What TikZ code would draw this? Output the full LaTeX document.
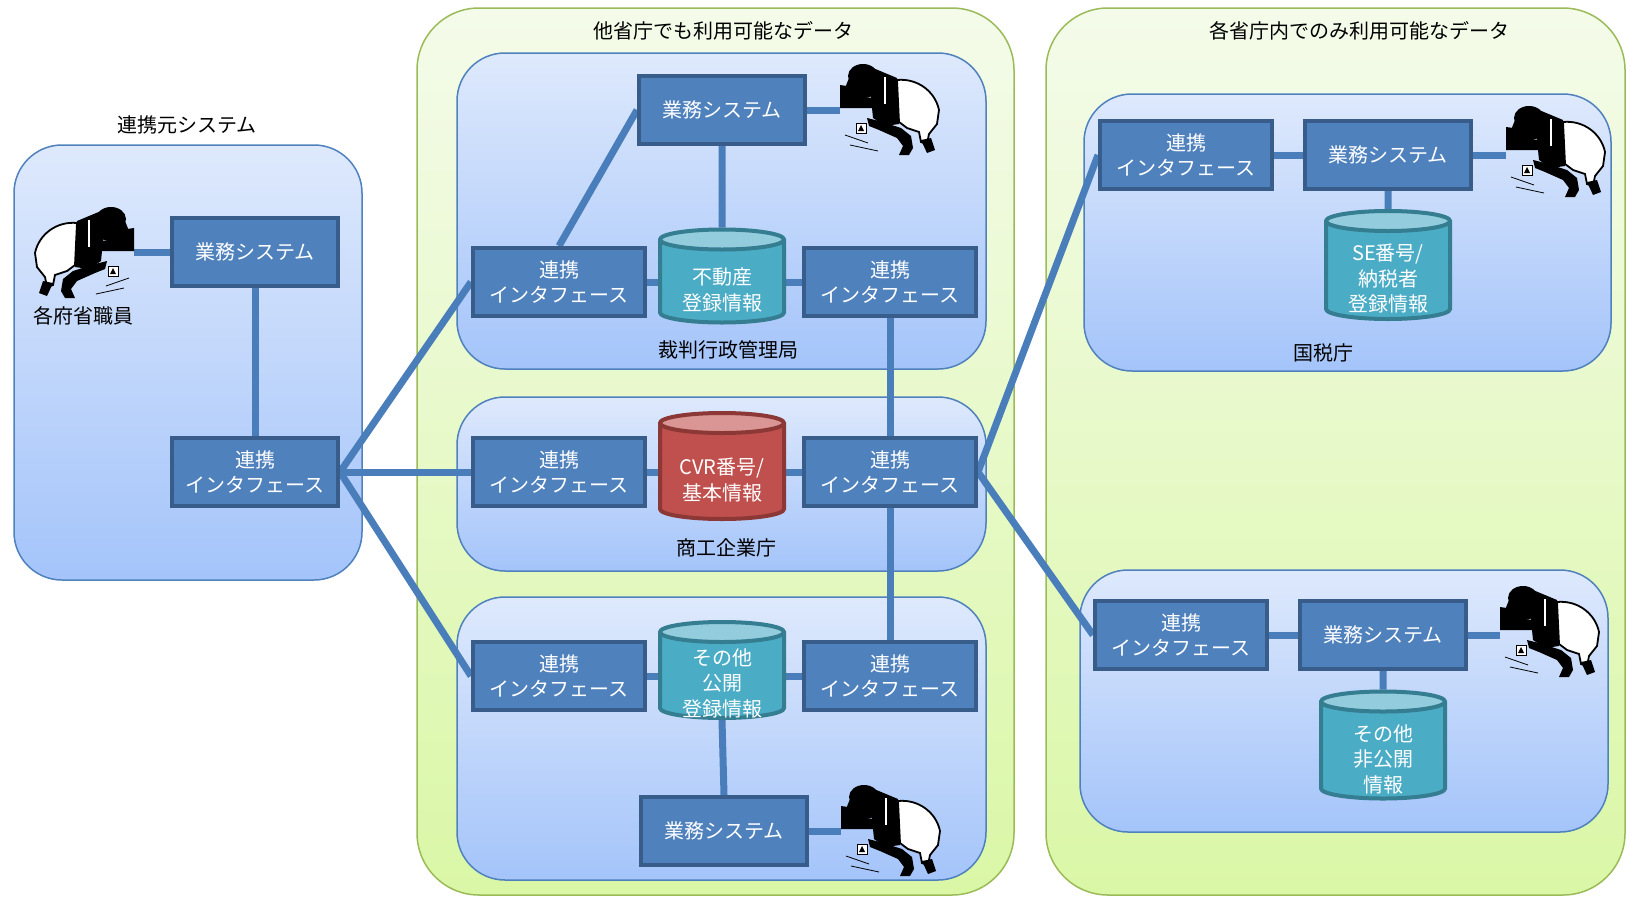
\documentclass[tikz,border=0pt]{standalone}
\usepackage{fontspec}
\setmainfont{Noto Sans CJK JP}
\usetikzlibrary{shapes.geometric}

\definecolor{zoneTop}{RGB}{244,251,234}
\definecolor{zoneBottom}{RGB}{218,247,166}
\definecolor{zoneEdge}{RGB}{155,187,89}
\definecolor{panelTop}{RGB}{222,233,252}
\definecolor{panelBottom}{RGB}{164,196,250}
\definecolor{panelEdge}{RGB}{79,129,189}
\definecolor{boxFill}{RGB}{79,129,189}
\definecolor{boxEdge}{RGB}{56,93,138}
\definecolor{linkBlue}{RGB}{74,126,187}
\definecolor{dbTeal}{RGB}{75,172,198}
\definecolor{dbTealTop}{RGB}{147,205,221}
\definecolor{dbTealEdge}{RGB}{53,125,145}
\definecolor{dbRed}{RGB}{192,80,77}
\definecolor{dbRedTop}{RGB}{217,150,148}
\definecolor{dbRedEdge}{RGB}{140,56,54}

\pgfdeclarelayer{zones}
\pgfdeclarelayer{links}
\pgfsetlayers{zones,links,main}

\tikzset{
	jpfont/.style={font=\fontsize{20}{25.5}\selectfont},
	sysbox/.style={rectangle, jpfont, align=center, text=white, fill=boxFill,
		draw=boxEdge, line width=4pt, minimum width=166pt, minimum height=68pt, inner sep=0pt},
	linkbox/.style={sysbox, minimum width=172pt},
	dbcyl/.style={cylinder, shape border rotate=90, aspect=0.25, jpfont,
		cylinder uses custom fill, cylinder body fill=dbTeal,
		cylinder end fill=dbTealTop, draw=dbTealEdge, line width=4pt,
		minimum width=124pt, inner sep=0pt},
	dbcylred/.style={dbcyl, cylinder body fill=dbRed, cylinder end fill=dbRedTop, draw=dbRedEdge},
	dbtext/.style={jpfont, align=center, text=white, inner sep=0pt},
	label/.style={jpfont, text=black},
	link/.style={draw=linkBlue, line width=7pt}
}

\newcommand{\drawZone}[2]{
	\path[top color=zoneTop, bottom color=zoneBottom, draw=zoneEdge, line width=1.5pt,
		rounded corners=62pt] (#1) rectangle (#2);
}
\newcommand{\drawPanel}[2]{
	\path[top color=panelTop, bottom color=panelBottom, draw=panelEdge, line width=1.5pt,
		rounded corners=48pt] (#1) rectangle (#2);
}
% clerk at a desk, #1 = name of the hook point, #2 = origin, #3 = 1 or -1 (facing)
\newcommand{\drawOfficer}[3]{
	\begin{scope}[shift={(#2)}, xscale=#3]
		% head, face and the dark shadow in front
		\fill[black] (28,18) ellipse [x radius=15pt, y radius=12pt];
		\fill[black] (14,20) -- (10,30) -- (16,37) -- (27,41) -- (38,38) -- (42,26) -- cycle;
		\fill[black] (5,27) -- (5,50) -- (38,50) -- (38,40) -- (22,38) -- (12,28) -- cycle;
		% vest and forearm
		\fill[black] (38,10) -- (62,20) -- (64,66) -- (50,68) -- (38,60) -- (36,40) -- cycle;
		\fill[black] (32,60) -- (44,63) -- (66,70) -- (76,78) -- (78,90) -- (74,97)
			-- (64,97) -- (68,88) -- (62,80) -- (44,72) -- (34,68) -- cycle;
		% shirt
		\filldraw[fill=white, draw=black, line width=1.8pt] (62,22) .. controls (82,20) and (100,33) .. (104,52)
			-- (102,66) -- (94,76) -- (92,86) -- (86,84) -- (84,74) -- (72,70) -- (64,64) -- cycle;
		\fill[black] (86,82) -- (96,80) -- (100,92) -- (92,95) -- cycle;
		\draw[white, line width=1.5pt] (50,19) -- (50,46);
		% camera and pens on the desk
		\filldraw[fill=white, draw=black, line width=1pt] (21,65) rectangle (31,75);
		\fill[black] (23,73) -- (26,67) -- (29,73) -- cycle;
		\draw[black, line width=0.8pt] (10,77) -- (33,85) (15,87) -- (43,93);
		\coordinate (#1) at (5,47);
	\end{scope}
}

\begin{document}
\begin{tikzpicture}[x=1pt, y=-1pt]
	\useasboundingbox (0,0) rectangle (1627,897);

	\coordinate (Z1_L) at (417,8);
	\coordinate (Z1_R) at (1014,895);
	\coordinate (Z2_L) at (1046,8);
	\coordinate (Z2_R) at (1625,895);
	\coordinate (P0_L) at (14,145);
	\coordinate (P0_R) at (362,580);
	\coordinate (P1_L) at (457,53);
	\coordinate (P1_R) at (986,369);
	\coordinate (P2_L) at (457,397);
	\coordinate (P2_R) at (986,571);
	\coordinate (P3_L) at (457,597);
	\coordinate (P3_R) at (986,880);
	\coordinate (P4_L) at (1084,94);
	\coordinate (P4_R) at (1611,371);
	\coordinate (P5_L) at (1080,570);
	\coordinate (P5_R) at (1608,832);

	\begin{pgfonlayer}{zones}
		\drawZone{Z1_L}{Z1_R}
		\drawZone{Z2_L}{Z2_R}
		\drawPanel{P0_L}{P0_R}
		\drawPanel{P1_L}{P1_R}
		\drawPanel{P2_L}{P2_R}
		\drawPanel{P3_L}{P3_R}
		\drawPanel{P4_L}{P4_R}
		\drawPanel{P5_L}{P5_R}
	\end{pgfonlayer}

	\node[label] (srcTitle) at (187,125) {連携元システム};
	\node[label] (midTitle) at (723,31) {他省庁でも利用可能なデータ};
	\node[label] (sideTitle) at (1359,31) {各省庁内でのみ利用可能なデータ};

	% source system
	\node[sysbox] (srcSys) at (255,252) {業務システム};
	\node[sysbox] (srcLink) at (255,472) {連携\\インタフェース};
	\drawOfficer{srcUser}{139,201}{-1}
	\node[label] (srcUserName) at (83,316) {各府省職員};

	% court administration
	\node[sysbox] (crtSys) at (722,110) {業務システム};
	\node[linkbox] (crtLinkL) at (559,282) {連携\\インタフェース};
	\node[dbcyl, minimum height=93pt] (crtDb) at (722,282) {\phantom{登録情報}};
	\node[dbtext] (crtDbText) at (722,290) {不動産\\登録情報};
	\node[linkbox] (crtLinkR) at (890,282) {連携\\インタフェース};
	\drawOfficer{crtUser}{835,58}{1}
	\node[label] (crtName) at (728,350) {裁判行政管理局};

	% business authority
	\node[linkbox] (cvrLinkL) at (559,472) {連携\\インタフェース};
	\node[dbcylred, minimum height=106pt] (cvrDb) at (722,472) {\phantom{登録情報}};
	\node[dbtext] (cvrDbText) at (722,480) {CVR番号/\\基本情報};
	\node[linkbox] (cvrLinkR) at (890,472) {連携\\インタフェース};
	\node[label] (cvrName) at (726,548) {商工企業庁};

	% other public data
	\node[linkbox] (pubLinkL) at (559,676) {連携\\インタフェース};
	\node[dbcyl, minimum height=96pt] (pubDb) at (722,676) {\phantom{登録情報}};
	\node[dbtext] (pubDbText) at (722,683) {その他\\公開\\登録情報};
	\node[linkbox] (pubLinkR) at (890,676) {連携\\インタフェース};
	\node[sysbox] (pubSys) at (724,831) {業務システム};
	\drawOfficer{pubUser}{836,779}{1}

	% tax agency
	\node[linkbox] (taxLink) at (1186,155) {連携\\インタフェース};
	\node[sysbox] (taxSys) at (1388,155) {業務システム};
	\node[dbcyl, minimum height=108pt] (taxDb) at (1388,271) {\phantom{登録情報}};
	\node[dbtext] (taxDbText) at (1388,279) {SE番号/\\納税者\\登録情報};
	\drawOfficer{taxUser}{1501,100}{1}
	\node[label] (taxName) at (1323,353) {国税庁};

	% other closed data
	\node[linkbox] (etcLink) at (1181,635) {連携\\インタフェース};
	\node[sysbox] (etcSys) at (1383,635) {業務システム};
	\node[dbcyl, minimum height=107pt] (etcDb) at (1383,751) {\phantom{登録情報}};
	\node[dbtext] (etcDbText) at (1383,759) {その他\\非公開\\情報};
	\drawOfficer{etcUser}{1495,580}{1}

	\begin{pgfonlayer}{links}
		\draw[link] (srcSys.west) -- (srcSys.west -| srcUser);
		\draw[link] (srcSys) -- (srcLink);
		\draw[link] (srcLink.east) -- (crtLinkL.west);
		\draw[link] (srcLink.east) -- (cvrLinkL.west);
		\draw[link] (srcLink.east) -- (pubLinkL.west);

		\draw[link] (crtLinkL.north) -- (crtSys.west);
		\draw[link] (crtSys) -- (crtDb);
		\draw[link] (crtSys.east) -- (crtSys.east -| crtUser);
		\draw[link] (crtLinkL) -- (crtDb) -- (crtLinkR);
		\draw[link] (crtLinkR) -- (cvrLinkR);

		\draw[link] (cvrLinkL) -- (cvrDb) -- (cvrLinkR);
		\draw[link] (cvrLinkR) -- (pubLinkR);
		\draw[link] (cvrLinkR.east) -- (taxLink.west);
		\draw[link] (cvrLinkR.east) -- (etcLink.west);

		\draw[link] (pubLinkL) -- (pubDb) -- (pubLinkR);
		\draw[link] (pubDb.south) -- (pubSys.north);
		\draw[link] (pubSys.east) -- (pubSys.east -| pubUser);

		\draw[link] (taxLink) -- (taxSys);
		\draw[link] (taxSys.east) -- (taxSys.east -| taxUser);
		\draw[link] (taxSys) -- (taxDb);

		\draw[link] (etcLink) -- (etcSys);
		\draw[link] (etcSys.east) -- (etcSys.east -| etcUser);
		\draw[link] (etcSys) -- (etcDb);
	\end{pgfonlayer}
\end{tikzpicture}
\end{document}
